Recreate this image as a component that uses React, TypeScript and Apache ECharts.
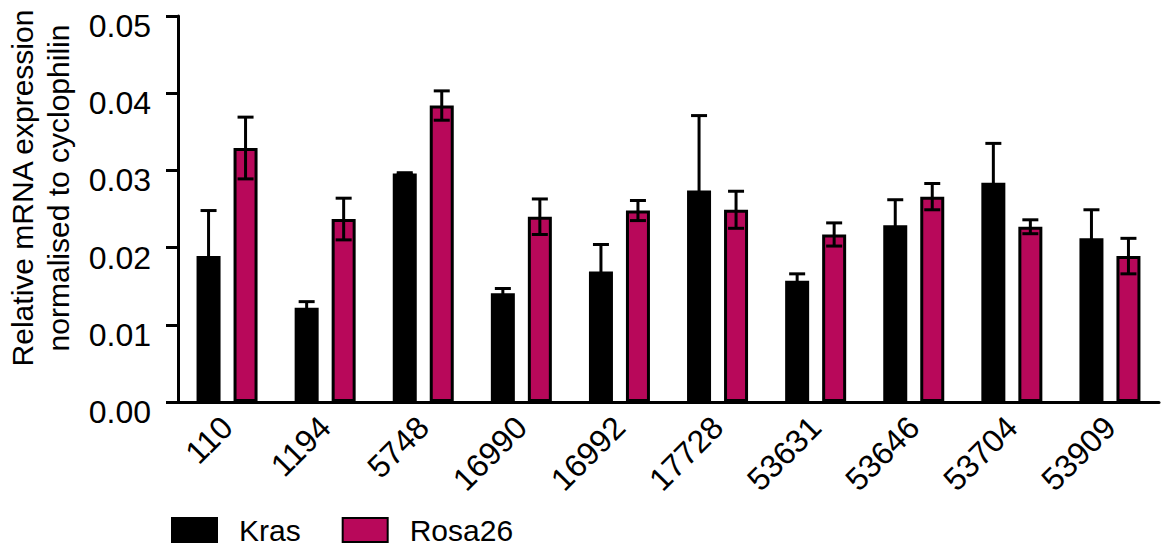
import React, { useEffect, useRef } from "react";
import * as echarts from "echarts";

const categories = ["110", "1194", "5748", "16990", "16992", "17728", "53631", "53646", "53704", "53909"];
const krasValues = [0.0189, 0.0122, 0.0296, 0.0141, 0.0169, 0.0274, 0.0157, 0.0229, 0.0284, 0.0212];
const krasErrors = [0.0059, 0.0008, 0.0001, 0.0006, 0.0035, 0.0097, 0.0009, 0.0033, 0.0051, 0.0037];
const rosaValues = [0.0329, 0.0237, 0.0384, 0.0240, 0.0248, 0.0249, 0.0217, 0.0266, 0.0227, 0.0189];
const rosaErrors = [0.0040, 0.0027, 0.0019, 0.0023, 0.0013, 0.0024, 0.0015, 0.0017, 0.0009, 0.0023];
const yTicks = { min: 0, max: 0.05, interval: 0.01 };

const FONT = "'Liberation Sans', Arial, Helvetica, sans-serif";
const ROSA = "#b8085a";
const BAR_W = 24;
const BORDER = 3;
const BAR_GAP = 13; // px between bars
const OFFSET = (BAR_W + BAR_GAP) / 2;

function errorSeries(values: number[], errors: number[], sign: number) {
  return {
    type: "custom",
    silent: true,
    z: 10,
    data: values.map((v, i) => [i, v, errors[i]]),
    encode: { x: 0, y: 1 },
    renderItem: (params: any, api: any) => {
      const idx = api.value(0);
      const v = api.value(1);
      const e = api.value(2);
      const top = api.coord([idx, v + e]);
      const bot = api.coord([idx, v - e]);
      const x = top[0] + sign * OFFSET;
      const cap = 8;
      const style = { stroke: "#000", lineWidth: 3 };
      return {
        type: "group",
        children: [
          { type: "line", shape: { x1: x, y1: top[1], x2: x, y2: bot[1] }, style },
          { type: "line", shape: { x1: x - cap, y1: top[1], x2: x + cap, y2: top[1] }, style },
          { type: "line", shape: { x1: x - cap, y1: bot[1], x2: x + cap, y2: bot[1] }, style },
        ],
      };
    },
  };
}

export default function App() {
  const ref = useRef<HTMLDivElement>(null);
  useEffect(() => {
    document.body.style.margin = "0";
    if (!ref.current) return;
    const chart = echarts.init(ref.current, null, { renderer: "svg" });
    chart.setOption({
      animation: false,
      textStyle: { fontFamily: FONT, color: "#000" },
      grid: { left: 178, right: 4, top: 16, bottom: 144, containLabel: false },
      legend: {
        left: 171,
        top: 515,
        padding: 0,
        itemWidth: 45,
        itemHeight: 24,
        itemGap: 41,
        icon: "rect",
        textStyle: { fontFamily: FONT, fontSize: 30, lineHeight: 30, color: "#000", padding: [0, 0, 0, 17] },
        data: ["Kras", "Rosa26"],
      },
      graphic: [
        {
          type: "text",
          x: 40,
          y: 188,
          rotation: Math.PI / 2,
          style: {
            text: "Relative mRNA expression\nnormalised to cyclophilin",
            font: `30px ${FONT}`,
            fill: "#000",
            align: "center",
            verticalAlign: "middle",
            lineHeight: 36,
          },
        },
      ],
      xAxis: {
        type: "category",
        data: categories,
        boundaryGap: true,
        axisLine: { lineStyle: { color: "#000", width: 3 } },
        axisTick: { alignWithLabel: true, length: 12, lineStyle: { color: "#000", width: 3 } },
        axisLabel: {
          interval: 0,
          rotate: 45,
          margin: 20,
          fontSize: 32,
          fontFamily: FONT,
          color: "#000",
        },
      },
      yAxis: {
        type: "value",
        min: yTicks.min,
        max: yTicks.max,
        interval: yTicks.interval,
        splitLine: { show: false },
        axisLine: { show: true, lineStyle: { color: "#000", width: 3 } },
        axisTick: { show: true, length: 12, lineStyle: { color: "#000", width: 3 } },
        axisLabel: {
          margin: 27,
          color: "#000",
          formatter: (v: number) => `{n|${v.toFixed(2)}}`,
          rich: {
            n: {
              fontSize: 32,
              fontFamily: FONT,
              color: "#000",
              padding: [20, 0, 0, 0],
            },
          },
        },
      },
      series: [
        {
          name: "Kras",
          type: "bar",
          data: krasValues,
          barWidth: BAR_W,
          barGap: `${(BAR_GAP / BAR_W) * 100}%`,
          itemStyle: { color: "#000", borderColor: "#000", borderWidth: BORDER },
        },
        {
          name: "Rosa26",
          type: "bar",
          data: rosaValues,
          barWidth: BAR_W,
          barGap: `${(BAR_GAP / BAR_W) * 100}%`,
          itemStyle: { color: ROSA, borderColor: "#000", borderWidth: BORDER },
        },
        errorSeries(krasValues, krasErrors, -1),
        errorSeries(rosaValues, rosaErrors, 1),
      ],
    });
    return () => chart.dispose();
  }, []);
  return <div ref={ref} style={{ width: 1163, height: 546 }} />;
}
